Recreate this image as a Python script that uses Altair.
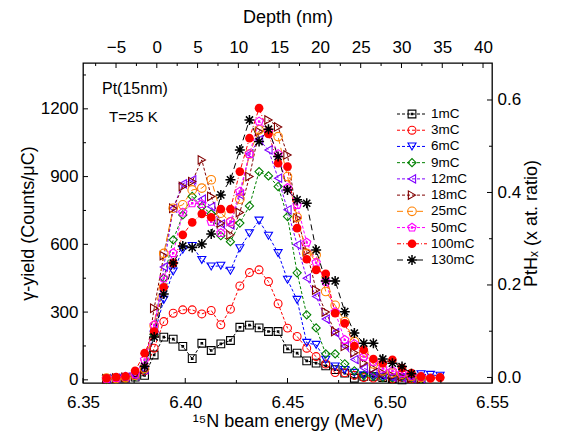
import altair as alt
import pandas as pd

energy = [6.3615, 6.3662, 6.3708, 6.3755, 6.3801, 6.3848, 6.3895, 6.3941, 6.3988, 6.4034,
          6.4081, 6.4127, 6.4174, 6.4221, 6.4267, 6.4314, 6.4361, 6.4407, 6.4454, 6.4500,
          6.4547, 6.4594, 6.4640, 6.4687, 6.4733, 6.4780, 6.4827, 6.4873, 6.4920, 6.4966,
          6.5013, 6.5060, 6.5106, 6.5153, 6.5199, 6.5246]

series_names = ["1mC", "3mC", "6mC", "9mC", "12mC", "18mC", "25mC", "50mC", "100mC", "130mC"]

y_1mC = [5, 6, 8, 12, 20, 110, 189, 180, 148, 94, 162, 130, 159, 174, 233, 242, 230, 214, 214, 137,
         118, 84, 74, 62, 45, 30, 7, 15, 15, 10, 5, 0, 7, 5, None, None]
y_3mC = [3, 5, 8, 20, 40, 140, 258, 295, 310, 310, 292, 307, 244, 313, 416, 475, 487, 435, 337, 229,
         192, 140, 103, 70, 32, 31, 20, 10, 8, 12, 5, 10, 5, 12, 8, 10]
y_6mC = [2, 4, 8, 15, 40, 200, 354, 480, 576, 593, 531, 502, 505, 483, 583, 649, 705, 638, 561, 443,
         354, 164, 155, 89, 59, 44, 31, 20, 15, 10, 8, 10, 15, 25, 22, 18]
y_9mC = [2, 5, 8, 15, 45, 200, 450, 620, 730, 812, 767, 735, 638, 612, 694, 770, 922, 903, 856, 723,
         474, 288, 230, 115, 115, 71, 40, 19, 15, 10, 8, 12, 8, 5, None, None]
y_12mC = [5, 8, 12, 18, 45, 220, 500, 760, 868, 886, 800, 767, 690, 686, 820, 1000, 1063, 1018, 893, 753,
          598, 450, 369, 269, 209, 150, 90, 52, 31, 22, 12, 10, 8, 6, None, None]
y_18mC = [5, 8, 12, 20, 45, 317, 550, 760, 856, 878, 974, 812, 694, 642, 741, 900, 1100, 1151, 1120, 996,
          716, 568, 398, 300, 214, 148, 120, 75, 50, 30, 18, 12, 8, 5, None, None]
y_25mC = [8, 6, 10, 20, 50, 240, 560, 760, 775, 841, 849, 886, 738, 700, 800, 1000, 1107, 1100, 1077, 900,
          720, 560, 553, 391, 330, 258, 170, 120, 70, 40, 30, 25, 15, 10, None, None]
y_50mC = [5, 8, 15, 25, 89, 243, 450, 561, 741, 782, 779, 700, 650, 700, 834, 1000, 1144, 1100, 1000, 850,
          775, 608, 519, 435, 300, 177, 159, 103, 80, 50, 40, 30, 20, 15, None, None]
y_100mC = [7, 12, 15, 40, 118, 214, 410, 517, 642, 697, 735, 720, 756, 756, 922, 1070, 1203, 1089, 959, 944,
           672, 534, 487, 469, 295, 250, 150, 133, 92, 74, 89, 52, 30, 15, 7, 10]
y_130mC = [None, None, None, None, 60, 190, 380, 517, 593, 586, 601, 646, 819, 886, 1018, 1151, 1055, 1110, 989, 841,
           797, 782, 575, 438, 438, 302, 207, 162, 162, 92, 74, 59, 27, None, None, None]

all_series = [y_1mC, y_3mC, y_6mC, y_9mC, y_12mC, y_18mC, y_25mC, y_50mC, y_100mC, y_130mC]

colors = ["#000000", "#ff0000", "#0000ff", "#008000", "#8000ff", "#800000", "#ff8000", "#ff00ff", "#ff0000", "#000000"]
dashes = [[3, 2], [3, 2], [3, 2], [3, 2], [3, 2], [3, 2], [6, 4], [3, 2], [4, 2, 1, 2], [6, 4]]
SQ = "M-1,-1H1V1H-1Z M-0.2,-0.2H0.2V0.2H-0.2Z"
PENT = "M0,-1L0.951,-0.309L0.588,0.809L-0.588,0.809L-0.951,-0.309Z M-0.15,-0.15H0.15V0.15H-0.15Z"
AST = "M-1,0H1M0,-1V1M-0.71,-0.71L0.71,0.71M-0.71,0.71L0.71,-0.71"
shapes = [SQ, "circle", "triangle-down", "diamond", "triangle-left", "triangle-right", "circle", PENT, "circle", AST]
sizes = [60, 80, 90, 80, 90, 90, 80, 90, 80, 90]

x_ticks = [6.35, 6.40, 6.45, 6.50, 6.55]
x_minor = [6.375, 6.425, 6.475, 6.525]
y_ticks = [0, 300, 600, 900, 1200]
y_minor = [150, 450, 750, 1050, 1350]
depth_ticks = [-5, 0, 5, 10, 15, 20, 25, 30, 35, 40]
depth_minor = [-7.5, -2.5, 2.5, 7.5, 12.5, 17.5, 22.5, 27.5, 32.5, 37.5]
ratio_ticks = [0.0, 0.2, 0.4, 0.6]
ratio_minor = [0.1, 0.3, 0.5]

rows = []
for name, vals in zip(series_names, all_series):
    for e, v in zip(energy, vals):
        if v is not None:
            rows.append({"series": name, "E": e, "val": v})
df = pd.DataFrame(rows)

FONT = "Liberation Sans"
W, H = 409, 320
XS = alt.Scale(domain=[6.35, 6.55], nice=False, zero=False)
YS = alt.Scale(domain=[-14, 1403], nice=False, zero=False)
DS = alt.Scale(domain=[-9.05, 41.1], nice=False, zero=False)
RS = alt.Scale(domain=[-0.012, 0.68], nice=False, zero=False)

color_enc = alt.Color("series:N", scale=alt.Scale(domain=series_names, range=colors), legend=None)
dash_enc = alt.StrokeDash("series:N", scale=alt.Scale(domain=series_names, range=dashes), legend=None)
shape_enc = alt.Shape("series:N", scale=alt.Scale(domain=series_names, range=shapes), legend=None)
size_enc = alt.Size("series:N", scale=alt.Scale(domain=series_names, range=sizes), legend=None)

xn = alt.X("E:Q", scale=XS, axis=None)
yn = alt.Y("val:Q", scale=YS, axis=None)

lines = alt.Chart(df).mark_line(strokeWidth=1).encode(
    x=alt.X("E:Q", scale=XS, axis=alt.Axis(values=x_ticks, format=".2f", title="¹⁵N beam energy (MeV)",
                                           labelPadding=11, titlePadding=2, labelFlush=False)),
    y=alt.Y("val:Q", scale=YS, axis=alt.Axis(values=y_ticks, format="d", title="γ-yield (Counts/μC)",
                                             labelPadding=5, titlePadding=3)),
    color=color_enc, strokeDash=dash_enc, detail="series:N",
)

open_names = series_names[:8]
pts_open = alt.Chart(df).transform_filter(
    alt.FieldOneOfPredicate(field="series", oneOf=open_names)
).mark_point(filled=False, strokeWidth=1.1, opacity=1).encode(
    x=xn, y=yn, color=color_enc, shape=shape_enc, size=size_enc)

pts_fill = alt.Chart(df).transform_filter(alt.datum.series == "100mC").mark_point(
    filled=True, shape="circle", size=75, color="#ff0000", opacity=1).encode(x=xn, y=yn)

pts_ast = alt.Chart(df).transform_filter(alt.datum.series == "130mC").mark_point(
    filled=False, shape=AST, size=100, color="#000000", strokeWidth=1.5, opacity=1).encode(x=xn, y=yn)

# top and right axes
top_axis = alt.Chart(pd.DataFrame({"d": depth_ticks})).mark_point(opacity=0).encode(
    x=alt.X("d:Q", scale=DS, axis=alt.Axis(orient="top", values=depth_ticks, title="Depth (nm)",
                                          labelPadding=7, titlePadding=12, labelFlush=False)))
right_axis = alt.Chart(pd.DataFrame({"r": ratio_ticks})).mark_point(opacity=0).encode(
    y=alt.Y("r:Q", scale=RS, axis=alt.Axis(orient="right", values=ratio_ticks, format=".1f",
                                          title="PtHₓ (x at. ratio)", titleAngle=270, titleBaseline="top",
                                          labelPadding=5, titlePadding=2)))

def tick_layer(vals, chan, scale, p1, p2):
    d = pd.DataFrame({"t": vals})
    c = alt.Chart(d).mark_rule(color="black", strokeWidth=1)
    if chan == "x":
        return c.encode(x=alt.X("t:Q", scale=scale, axis=None), y=alt.value(p1), y2=alt.value(p2))
    return c.encode(y=alt.Y("t:Q", scale=scale, axis=None), x=alt.value(p1), x2=alt.value(p2))

ticks = [
    tick_layer(x_ticks, "x", XS, H, H - 5),
    tick_layer(x_minor, "x", XS, H, H - 3),
    tick_layer(depth_ticks, "x", DS, 0, 5),
    tick_layer(depth_minor, "x", DS, 0, 3),
    tick_layer(y_ticks, "y", YS, 0, 5),
    tick_layer(y_minor, "y", YS, 0, 3),
    tick_layer(ratio_ticks, "y", RS, W, W - 5),
    tick_layer(ratio_minor, "y", RS, W, W - 3),
]

# legend
leg = pd.DataFrame({"series": series_names, "row": list(range(10))})
LY = alt.Y("row:Q", scale=alt.Scale(domain=[0, 9], range=[51, 197]), axis=None)
leg_line = alt.Chart(leg).mark_rule(strokeWidth=1).encode(
    x=alt.value(314), x2=alt.value(344), y=LY, color=color_enc, strokeDash=dash_enc)
leg_open = alt.Chart(leg).transform_filter(
    alt.FieldOneOfPredicate(field="series", oneOf=open_names)
).mark_point(filled=False, strokeWidth=1.1, opacity=1).encode(
    x=alt.value(329), y=LY, color=color_enc, shape=shape_enc, size=size_enc)
leg_fill = alt.Chart(leg).transform_filter(alt.datum.series == "100mC").mark_point(
    filled=True, shape="circle", size=75, color="#ff0000", opacity=1).encode(x=alt.value(329), y=LY)
leg_ast = alt.Chart(leg).transform_filter(alt.datum.series == "130mC").mark_point(
    filled=False, shape=AST, size=100, color="#000000", strokeWidth=1.5, opacity=1).encode(x=alt.value(329), y=LY)
leg_text = alt.Chart(leg).mark_text(align="left", baseline="middle", font=FONT, fontSize=13.5, color="black").encode(
    x=alt.value(348), y=LY, text="series:N")

notes = pd.DataFrame({"t": ["Pt(15nm)", "T=25 K"]})
note1 = alt.Chart(notes.iloc[[0]]).mark_text(align="left", baseline="middle", font=FONT, fontSize=16, color="black").encode(
    x=alt.value(19), y=alt.value(26), text="t:N")
note2 = alt.Chart(notes.iloc[[1]]).mark_text(align="left", baseline="middle", font=FONT, fontSize=15, color="black").encode(
    x=alt.value(26), y=alt.value(54), text="t:N")

chart = alt.layer(
    lines, pts_open, pts_fill, pts_ast, top_axis, right_axis, *ticks,
    leg_line, leg_open, leg_fill, leg_ast, leg_text, note1, note2
).resolve_scale(
    x="independent", y="independent", color="independent", shape="independent",
    strokeDash="independent", size="independent"
).properties(
    width=W, height=H,
    padding={"left": 75, "top": 55, "right": 62, "bottom": 50},
    autosize=alt.AutoSizeParams(type="none"),
).configure_view(stroke="black", strokeWidth=1.3).configure_axis(
    labelFont=FONT, titleFont=FONT, labelFontSize=17, titleFontSize=18, titleFontWeight="normal",
    labelColor="black", titleColor="black", grid=False, domain=False, ticks=False, tickSize=0,
)

chart.save("out.html", embed_options={"renderer": "svg", "actions": False})
